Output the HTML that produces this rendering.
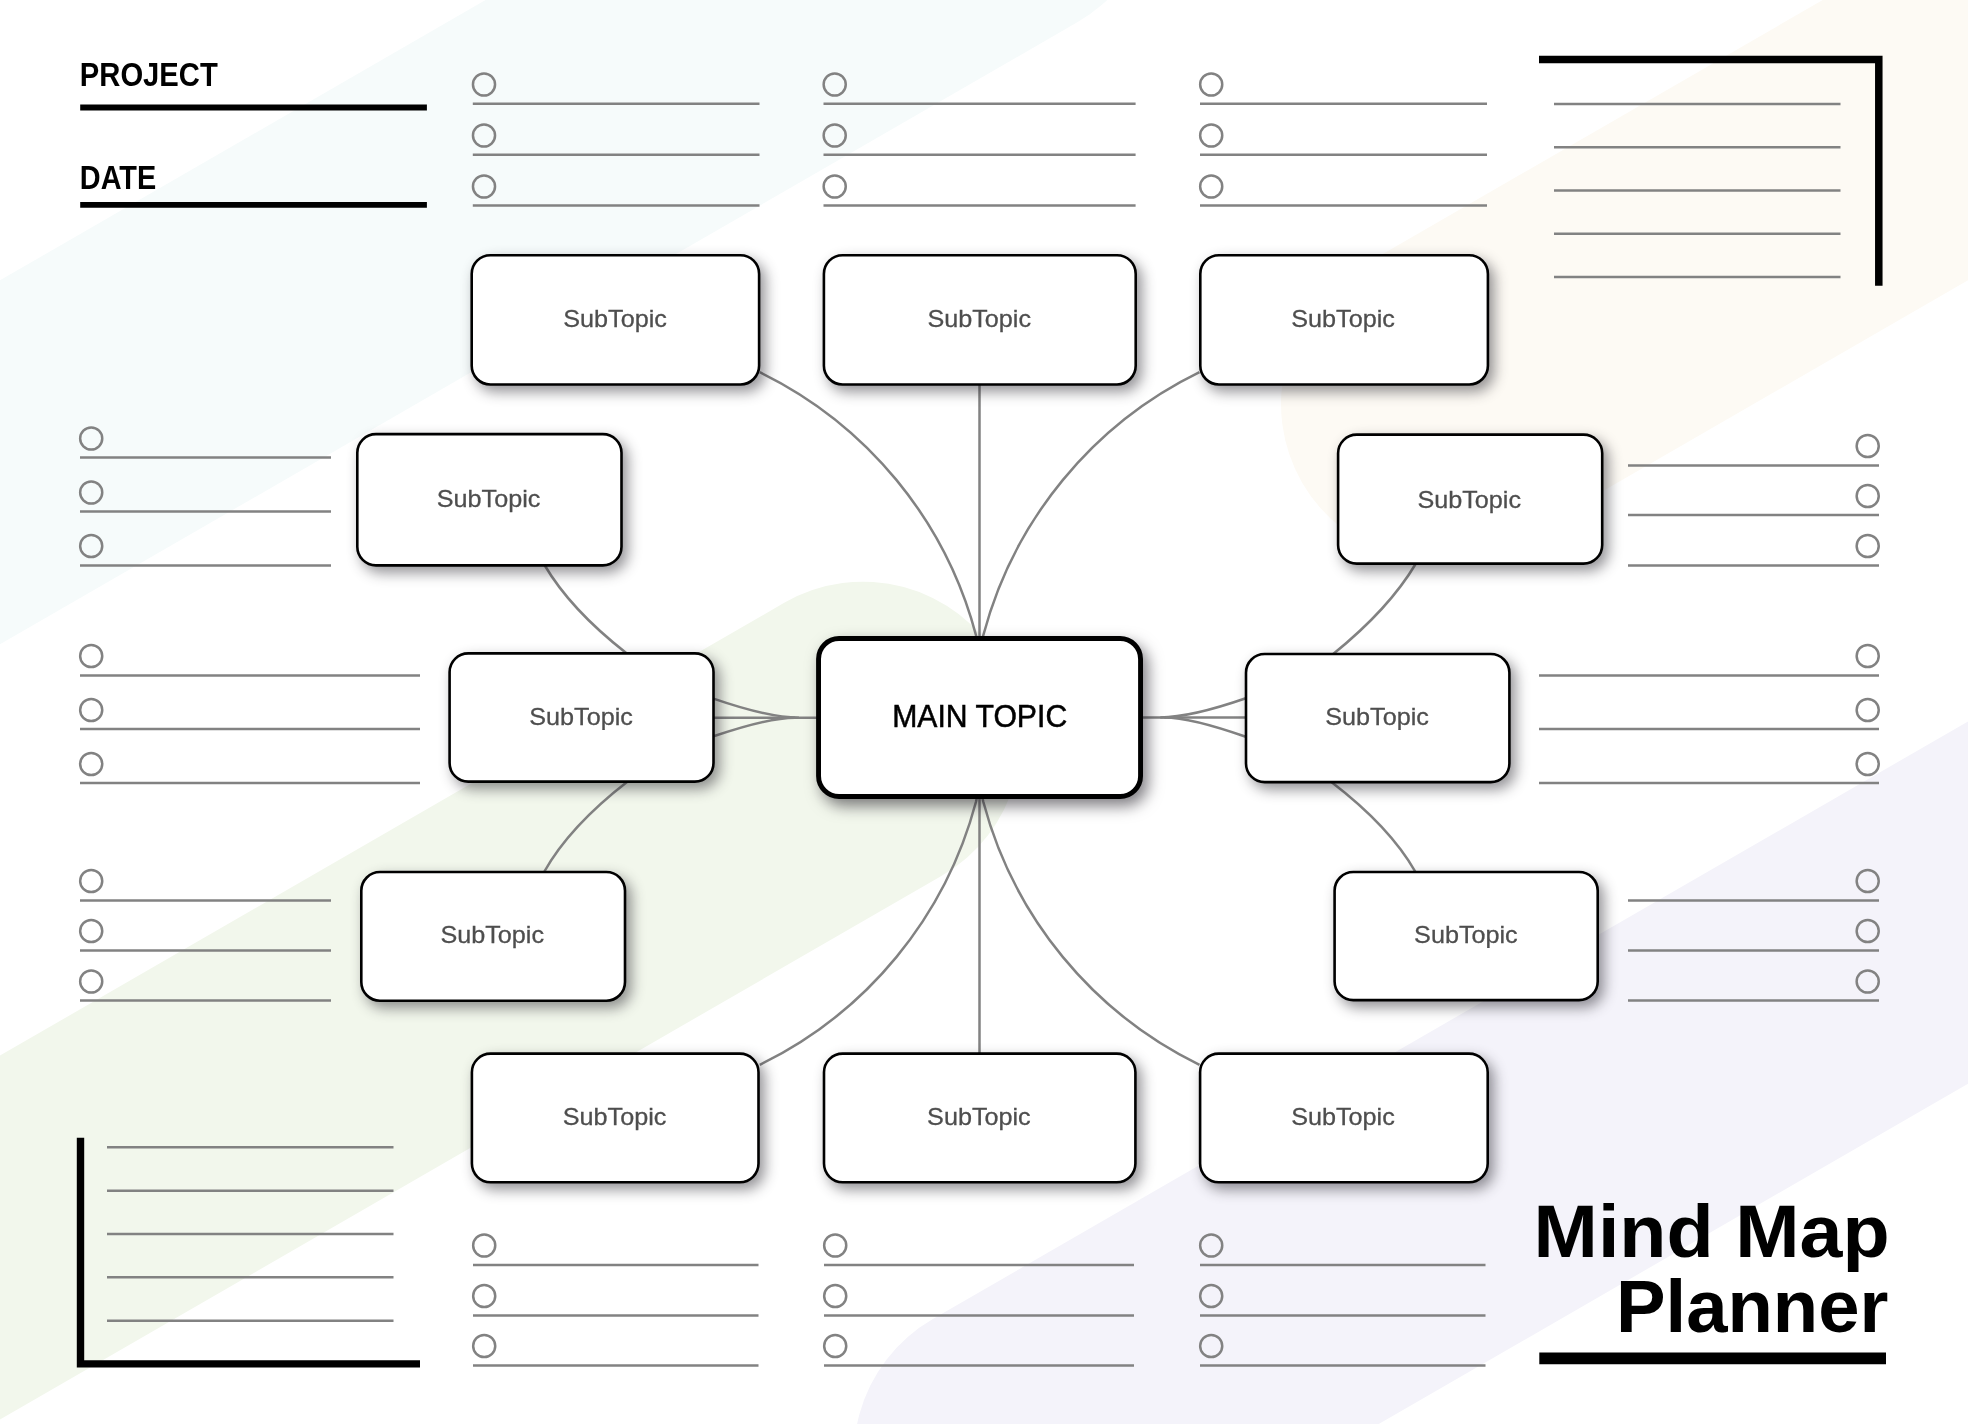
<!DOCTYPE html>
<html lang="en"><head><meta charset="utf-8"><title>Mind Map Planner</title>
<style>
html,body{margin:0;padding:0;background:#fff;}
body{width:1968px;height:1424px;overflow:hidden;}
svg{display:block;}
text{font-family:"Liberation Sans",sans-serif;opacity:.999;}
.sub{font-size:24.5px;fill:#4e4e4e;stroke:#4e4e4e;stroke-width:.3px;text-anchor:middle;}
.ln{stroke:#828282;stroke-width:2.5;fill:none;}
.ck{stroke:#828282;stroke-width:2.5;fill:none;}
.bx{fill:#fff;stroke:#000;stroke-width:2.6;}
</style></head><body>
<svg width="1968" height="1424" viewBox="0 0 1968 1424">
<defs>
<filter id="sh" color-interpolation-filters="sRGB" x="-10%" y="-15%" width="125%" height="140%"><feDropShadow dx="5" dy="6" stdDeviation="7" flood-color="#1a1820" flood-opacity="0.47"/></filter>
<filter id="shm" color-interpolation-filters="sRGB" x="-10%" y="-15%" width="125%" height="140%"><feDropShadow dx="5" dy="7" stdDeviation="7.5" flood-color="#1a1820" flood-opacity="0.56"/></filter>
</defs>
<line x1="998.9" y1="-114.4" x2="-1252.8" y2="1185.6" stroke="#f6fbfb" stroke-width="315.2" stroke-linecap="round"/>
<line x1="1438.7" y1="403.8" x2="3690.4" y2="-896.2" stroke="#fdfaf4" stroke-width="315.4" stroke-linecap="round"/>
<line x1="863.0" y1="739.3" x2="-1388.7" y2="2039.3" stroke="#f2f7ec" stroke-width="315.2" stroke-linecap="round"/>
<line x1="1010.9" y1="1455.2" x2="3262.6" y2="155.2" stroke="#f4f3fa" stroke-width="313.8" stroke-linecap="round"/>
<g class="ln">
<path d="M759.8 372.2 A408.9 408.9 0 0 1 976.0 635.2 L979.6 652.0"/>
<path d="M1199.5 372.2 A408.9 408.9 0 0 0 983.3 635.2 L979.6 652.0"/>
<path d="M759.8 1064.8 A408.9 408.9 0 0 0 976.0 801.8 L979.6 785.0"/>
<path d="M1199.5 1064.8 A408.9 408.9 0 0 1 983.3 801.8 L979.6 785.0"/>
<path d="M979.5 384 V1054"/>
<path d="M544.5 565 Q570.6 609.5 626.2 653"/>
<path d="M544.1 872 Q569.5 826.5 627.6 781.5"/>
<path d="M1415.9 563.5 Q1389.2 608.7 1333.2 654"/>
<path d="M1415.5 872 Q1390 827 1331.4 782"/>
<path d="M713 717.65 H818"/>
<path d="M713.5 698.65 Q768.5 717.65 799 717.65"/>
<path d="M713.5 736.3 Q768.5 717.65 795 717.65"/>
<path d="M1246 717.4 H1141"/>
<path d="M1245.8 698.3 Q1190.8 717.4 1160.3 717.4"/>
<path d="M1245.8 736.7 Q1190.8 717.4 1164.3 717.4"/>
</g>
<path class="ln" d="M472.8 103.8 H759.5"/>
<circle class="ck" cx="484.0" cy="84.5" r="11.05"/>
<path class="ln" d="M472.8 154.7 H759.5"/>
<circle class="ck" cx="484.0" cy="135.5" r="11.05"/>
<path class="ln" d="M472.8 205.6 H759.5"/>
<circle class="ck" cx="484.0" cy="186.5" r="11.05"/>
<path class="ln" d="M823.5 103.8 H1135.6"/>
<circle class="ck" cx="834.7" cy="84.5" r="11.05"/>
<path class="ln" d="M823.5 154.7 H1135.6"/>
<circle class="ck" cx="834.7" cy="135.5" r="11.05"/>
<path class="ln" d="M823.5 205.6 H1135.6"/>
<circle class="ck" cx="834.7" cy="186.5" r="11.05"/>
<path class="ln" d="M1200.0 103.8 H1487.0"/>
<circle class="ck" cx="1211.2" cy="84.5" r="11.05"/>
<path class="ln" d="M1200.0 154.7 H1487.0"/>
<circle class="ck" cx="1211.2" cy="135.5" r="11.05"/>
<path class="ln" d="M1200.0 205.6 H1487.0"/>
<circle class="ck" cx="1211.2" cy="186.5" r="11.05"/>
<path class="ln" d="M473.0 1265.0 H758.5"/>
<circle class="ck" cx="484.2" cy="1245.5" r="11.05"/>
<path class="ln" d="M473.0 1315.5 H758.5"/>
<circle class="ck" cx="484.2" cy="1296.0" r="11.05"/>
<path class="ln" d="M473.0 1365.5 H758.5"/>
<circle class="ck" cx="484.2" cy="1346.0" r="11.05"/>
<path class="ln" d="M824.0 1265.0 H1134.0"/>
<circle class="ck" cx="835.2" cy="1245.5" r="11.05"/>
<path class="ln" d="M824.0 1315.5 H1134.0"/>
<circle class="ck" cx="835.2" cy="1296.0" r="11.05"/>
<path class="ln" d="M824.0 1365.5 H1134.0"/>
<circle class="ck" cx="835.2" cy="1346.0" r="11.05"/>
<path class="ln" d="M1200.0 1265.0 H1485.5"/>
<circle class="ck" cx="1211.2" cy="1245.5" r="11.05"/>
<path class="ln" d="M1200.0 1315.5 H1485.5"/>
<circle class="ck" cx="1211.2" cy="1296.0" r="11.05"/>
<path class="ln" d="M1200.0 1365.5 H1485.5"/>
<circle class="ck" cx="1211.2" cy="1346.0" r="11.05"/>
<path class="ln" d="M80.0 457.5 H331.0"/>
<circle class="ck" cx="91.2" cy="438.5" r="11.05"/>
<path class="ln" d="M80.0 511.5 H331.0"/>
<circle class="ck" cx="91.2" cy="492.5" r="11.05"/>
<path class="ln" d="M80.0 565.5 H331.0"/>
<circle class="ck" cx="91.2" cy="546.0" r="11.05"/>
<path class="ln" d="M80.0 675.5 H420.0"/>
<circle class="ck" cx="91.2" cy="656.0" r="11.05"/>
<path class="ln" d="M80.0 729.0 H420.0"/>
<circle class="ck" cx="91.2" cy="710.0" r="11.05"/>
<path class="ln" d="M80.0 783.0 H420.0"/>
<circle class="ck" cx="91.2" cy="764.0" r="11.05"/>
<path class="ln" d="M80.0 900.5 H331.0"/>
<circle class="ck" cx="91.2" cy="881.0" r="11.05"/>
<path class="ln" d="M80.0 950.5 H331.0"/>
<circle class="ck" cx="91.2" cy="931.0" r="11.05"/>
<path class="ln" d="M80.0 1000.5 H331.0"/>
<circle class="ck" cx="91.2" cy="981.5" r="11.05"/>
<path class="ln" d="M1628.0 465.5 H1879.0"/>
<circle class="ck" cx="1867.7" cy="446.0" r="11.05"/>
<path class="ln" d="M1628.0 515.0 H1879.0"/>
<circle class="ck" cx="1867.7" cy="496.0" r="11.05"/>
<path class="ln" d="M1628.0 565.5 H1879.0"/>
<circle class="ck" cx="1867.7" cy="546.0" r="11.05"/>
<path class="ln" d="M1539.0 675.5 H1879.0"/>
<circle class="ck" cx="1867.7" cy="656.0" r="11.05"/>
<path class="ln" d="M1539.0 729.0 H1879.0"/>
<circle class="ck" cx="1867.7" cy="710.0" r="11.05"/>
<path class="ln" d="M1539.0 783.0 H1879.0"/>
<circle class="ck" cx="1867.7" cy="764.0" r="11.05"/>
<path class="ln" d="M1628.0 900.5 H1879.0"/>
<circle class="ck" cx="1867.7" cy="881.0" r="11.05"/>
<path class="ln" d="M1628.0 950.5 H1879.0"/>
<circle class="ck" cx="1867.7" cy="931.0" r="11.05"/>
<path class="ln" d="M1628.0 1000.5 H1879.0"/>
<circle class="ck" cx="1867.7" cy="981.5" r="11.05"/>
<path d="M1539 59.6 H1878.8 V285.7" fill="none" stroke="#000" stroke-width="7.5"/>
<path class="ln" d="M1554 103.9 H1840.5"/>
<path class="ln" d="M1554 147.2 H1840.5"/>
<path class="ln" d="M1554 190.5 H1840.5"/>
<path class="ln" d="M1554 233.8 H1840.5"/>
<path class="ln" d="M1554 276.9 H1840.5"/>
<path d="M80.5 1137.8 V1363.9 H420" fill="none" stroke="#000" stroke-width="7.4"/>
<path class="ln" d="M107 1147.3 H393.5"/>
<path class="ln" d="M107 1190.7 H393.5"/>
<path class="ln" d="M107 1233.9 H393.5"/>
<path class="ln" d="M107 1277.3 H393.5"/>
<path class="ln" d="M107 1320.7 H393.5"/>
<text x="79.8" y="86.2" font-size="32.6" font-weight="700" fill="#000" textLength="138" lengthAdjust="spacingAndGlyphs">PROJECT</text>
<path d="M80.2 107.6 H426.9" stroke="#000" stroke-width="6"/>
<text x="79.8" y="189.2" font-size="32.6" font-weight="700" fill="#000" textLength="76.4" lengthAdjust="spacingAndGlyphs">DATE</text>
<path d="M80.2 204.9 H426.9" stroke="#000" stroke-width="5.8"/>
<rect class="bx" filter="url(#sh)" x="471.70" y="255.20" width="287.40" height="129.30" rx="18.7" ry="18.7"/>
<text class="sub" x="615.1" y="327.0" textLength="103.6" lengthAdjust="spacingAndGlyphs">SubTopic</text>
<rect class="bx" filter="url(#sh)" x="823.90" y="255.20" width="311.80" height="129.30" rx="18.7" ry="18.7"/>
<text class="sub" x="979.2" y="327.0" textLength="103.6" lengthAdjust="spacingAndGlyphs">SubTopic</text>
<rect class="bx" filter="url(#sh)" x="1200.30" y="255.20" width="287.60" height="129.30" rx="18.7" ry="18.7"/>
<text class="sub" x="1343.1" y="327.0" textLength="103.6" lengthAdjust="spacingAndGlyphs">SubTopic</text>
<rect class="bx" filter="url(#sh)" x="357.30" y="434.10" width="264.20" height="131.30" rx="18.7" ry="18.7"/>
<text class="sub" x="488.6" y="507.2" textLength="103.6" lengthAdjust="spacingAndGlyphs">SubTopic</text>
<rect class="bx" filter="url(#sh)" x="1338.10" y="434.60" width="264.10" height="129.00" rx="18.7" ry="18.7"/>
<text class="sub" x="1469.2" y="508.2" textLength="103.6" lengthAdjust="spacingAndGlyphs">SubTopic</text>
<rect class="bx" filter="url(#sh)" x="449.60" y="653.40" width="263.90" height="128.20" rx="18.7" ry="18.7"/>
<text class="sub" x="581.1" y="724.7" textLength="103.6" lengthAdjust="spacingAndGlyphs">SubTopic</text>
<rect class="bx" filter="url(#sh)" x="1246.00" y="654.00" width="263.40" height="128.10" rx="18.7" ry="18.7"/>
<text class="sub" x="1377.1" y="724.7" textLength="103.6" lengthAdjust="spacingAndGlyphs">SubTopic</text>
<rect class="bx" filter="url(#sh)" x="361.30" y="872.00" width="263.70" height="128.70" rx="18.7" ry="18.7"/>
<text class="sub" x="492.2" y="943.2" textLength="103.6" lengthAdjust="spacingAndGlyphs">SubTopic</text>
<rect class="bx" filter="url(#sh)" x="1334.60" y="872.00" width="263.10" height="128.10" rx="18.7" ry="18.7"/>
<text class="sub" x="1465.9" y="942.7" textLength="103.6" lengthAdjust="spacingAndGlyphs">SubTopic</text>
<rect class="bx" filter="url(#sh)" x="471.90" y="1053.60" width="286.60" height="128.70" rx="18.7" ry="18.7"/>
<text class="sub" x="614.6" y="1125.0" textLength="103.6" lengthAdjust="spacingAndGlyphs">SubTopic</text>
<rect class="bx" filter="url(#sh)" x="824.00" y="1053.60" width="311.40" height="128.70" rx="18.7" ry="18.7"/>
<text class="sub" x="978.9" y="1125.0" textLength="103.6" lengthAdjust="spacingAndGlyphs">SubTopic</text>
<rect class="bx" filter="url(#sh)" x="1200.10" y="1053.60" width="287.60" height="128.70" rx="18.7" ry="18.7"/>
<text class="sub" x="1343.0" y="1125.0" textLength="103.6" lengthAdjust="spacingAndGlyphs">SubTopic</text>
<rect filter="url(#shm)" x="818.55" y="638.55" width="322.00" height="157.90" rx="20.5" ry="20.5" fill="#fff" stroke="#000" stroke-width="4.9"/>
<text x="979.7" y="726.6" font-size="30.5" fill="#000" stroke="#000" stroke-width=".5" text-anchor="middle" textLength="175" lengthAdjust="spacingAndGlyphs">MAIN TOPIC</text>
<text x="1889.6" y="1256.6" font-size="75" font-weight="700" fill="#000" text-anchor="end" textLength="356" lengthAdjust="spacingAndGlyphs">Mind Map</text>
<text x="1888.4" y="1332.2" font-size="75" font-weight="700" fill="#000" text-anchor="end" textLength="272.3" lengthAdjust="spacingAndGlyphs">Planner</text>
<path d="M1539.3 1358.35 H1886" stroke="#000" stroke-width="11.9"/>
</svg></body></html>
